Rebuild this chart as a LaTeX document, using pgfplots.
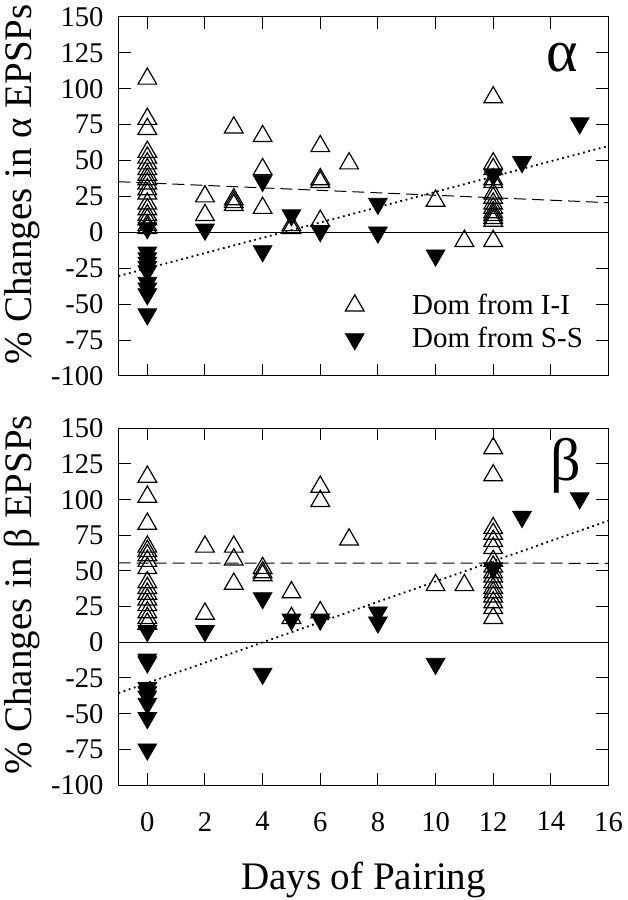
\documentclass[border=0pt]{standalone}
\usepackage{fontspec}
\setmainfont{Liberation Serif}
\usepackage{pgfplots}
\pgfplotsset{compat=1.18}
\pgfplotsset{
  panel/.style={
    scale only axis, width=245pt,
    xmin=-1, xmax=16, ymin=-100, ymax=150,
    xtick={0,2,...,16}, ytick={-100,-75,...,150},
    tick align=inside, major tick length=6pt,
    xtick pos=both, ytick pos=both,
    yticklabel pos=left, xticklabel pos=lower,
    tick style={black, line width=0.5pt},
    axis line style={line width=0.5pt},
    /pgf/number format/assume math mode=true,
    tick label style={font=\fontsize{14.3}{16}\selectfont},
    label style={font=\fontsize{19.5}{22}\selectfont},
    yticklabel style={xshift=-4pt},
    ylabel style={at={(axis description cs:-0.196,0.533)}, anchor=center},
  },
  oi/.style={only marks, mark=triangle, mark size=5.4pt, mark options={line width=0.6pt, black}},
  ss/.style={only marks, mark=triangle*, mark size=5.4pt, mark options={rotate=180, fill=black, draw=black}},
  dsh/.style={black, line width=0.5pt, dash pattern=on 6pt off 3pt},
  dtt/.style={black, line width=0.9pt, dash pattern=on 0.9pt off 1.8pt},
}
\begin{document}
\begin{tikzpicture}
\path[use as bounding box] (0,0) rectangle (313.5pt,450pt);
% ---------- alpha panel ----------
\begin{axis}[panel, height=179.5pt, at={(59.25pt,262pt)}, anchor=south west,
  xticklabels={},
  ylabel={\% Changes in α EPSPs},
  legend style={at={(axis cs:6.65,-37)}, anchor=north west, draw=none, fill=none,
    font=\fontsize{14.5}{17}\selectfont, row sep=1pt,
    /tikz/every odd column/.append style={column sep=22pt}},
  legend cell align=left]
\addplot[black, line width=0.5pt, forget plot] coordinates {(-1,0) (16,0)};
\addplot[dsh, forget plot] coordinates {(-1,35.3) (16,20.7)};
\addplot[dtt, forget plot] coordinates {(-1,-30.4) (16,60.2)};
\addplot[oi] coordinates {
 (0,107) (0,79) (0,72) (0,56) (0,52) (0,48) (0,44) (0,40) (0,37) (0,34) (0,30) (0,27) (0,20) (0,16) (0,12) (0,9) (0,5) (0,3)
 (2,25) (2,12)
 (3,73) (3,23) (3,21) (3,19)
 (4,67) (4,44) (4,17)
 (5,5) (5,3)
 (6,60) (6,37) (6,35) (6,8)
 (7,48)
 (10,22)
 (11,-6)
 (12,94) (12,48) (12,44) (12,37) (12,35) (12,27) (12,24) (12,20) (12,17) (12,14) (12,12) (12,10) (12,8) (12,-6)
};
\addlegendentry{Dom from I-I}
\addplot[ss] coordinates {
 (0,3) (0,-14) (0,-18) (0,-21) (0,-24) (0,-27) (0,-35) (0,-39) (0,-43) (0,-57)
 (2,2)
 (4,36) (4,-13)
 (5,12)
 (6,1)
 (8,20) (8,0)
 (10,-16)
 (12,40)
 (13,49)
 (15,76)
};
\addlegendentry{Dom from S-S}
\node[font=\fontsize{30}{32}\selectfont] at (axis cs:14.4,122) {α};
\end{axis}
% ---------- beta panel ----------
\begin{axis}[panel, height=178.35pt, at={(59.25pt,57.5pt)}, anchor=south west,
  xticklabel style={yshift=-10pt},
  ylabel={\% Changes in β EPSPs},
  xlabel={Days of Pairing},
  xlabel style={at={(axis description cs:0.5,-0.266)}, anchor=center}]
\addplot[black, line width=0.5pt] coordinates {(-1,0) (16,0)};
\addplot[dsh] coordinates {(-1,55.6) (16,55.4)};
\addplot[dtt] coordinates {(-1,-35.6) (16,85.3)};
\addplot[oi] coordinates {
 (0,116) (0,102) (0,83) (0,67) (0,64) (0,61) (0,57) (0,52) (0,42) (0,38) (0,34) (0,30) (0,26) (0,21) (0,17) (0,13)
 (2,67) (2,20)
 (3,67) (3,58) (3,41)
 (4,52) (4,49) (4,47)
 (5,35) (5,17)
 (6,109) (6,99) (6,21)
 (7,72)
 (10,40)
 (11,40)
 (12,136) (12,117) (12,80) (12,76) (12,71) (12,66) (12,57) (12,53) (12,49) (12,46) (12,42) (12,38) (12,35) (12,32) (12,28) (12,24) (12,17)
};
\addplot[ss] coordinates {
 (0,8) (0,-12) (0,-14) (0,-32) (0,-35) (0,-38) (0,-43) (0,-53) (0,-75)
 (2,8)
 (4,31) (4,-22)
 (5,16)
 (6,16)
 (8,21) (8,14)
 (10,-15)
 (12,52)
 (13,88)
 (15,101)
};
\node[font=\fontsize{30}{32}\selectfont] at (axis cs:14.5,123.6) {β};
\end{axis}
\end{tikzpicture}
\end{document}
